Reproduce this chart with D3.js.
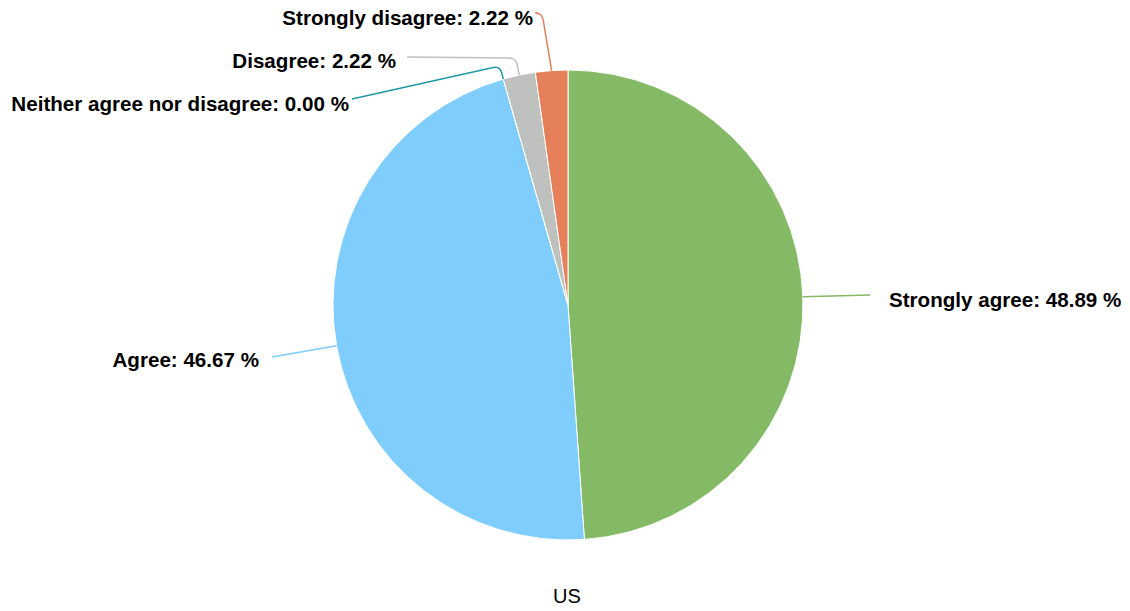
<!DOCTYPE html>
<html>
<head>
<meta charset="utf-8">
<script src="https://cdn.jsdelivr.net/npm/d3@7/dist/d3.min.js"></script>
<style>
  html, body { margin: 0; padding: 0; background: #ffffff; }
  svg { display: block; font-family: "Liberation Sans", Arial, Helvetica, sans-serif; }
</style>
</head>
<body>
<svg id="chart" width="1130" height="611"></svg>
<script>
// Survey answers for the US respondents
const categories = ["Strongly agree", "Agree", "Neither agree nor disagree", "Disagree", "Strongly disagree"];
const percentages = [48.89, 46.67, 0.00, 2.22, 2.22];
const sliceColors = ["#84b965", "#7ecdfd", "#1f9aa4", "#bec1bd", "#e5805a"];
const chartTitle = "US";

// Label placement: side of the pie, label anchor point and connector elbow
const labelLayout = [
  { side: "right", x: 889, y: 300, elbow: [870, 295] },
  { side: "left",  x: 259, y: 360, elbow: [272, 357] },
  { side: "left",  x: 349, y: 104, elbow: [500, 66], end: [352, 99] },
  { side: "left",  x: 396, y: 61,  elbow: [516, 58], end: [407, 57] },
  { side: "left",  x: 533, y: 18,  elbow: [542, 13], end: [538, 13] }
];

const svg = d3.select("#chart");
const cx = 568, cy = 305, radius = 235;

const data = categories.map((c, i) => ({ name: c, value: percentages[i], color: sliceColors[i], layout: labelLayout[i] }));

const pie = d3.pie().sort(null).value(d => d.value);
const arcs = pie(data);
const arc = d3.arc().innerRadius(0).outerRadius(radius);

const g = svg.append("g").attr("transform", `translate(${cx},${cy})`);

g.selectAll("path.slice")
  .data(arcs)
  .join("path")
  .attr("class", "slice")
  .attr("d", arc)
  .attr("fill", d => d.data.color)
  .attr("stroke", "#ffffff")
  .attr("stroke-width", 1)
  .attr("stroke-linejoin", "round");

// Connector from the slice edge to its label
function connector(d) {
  const mid = (d.startAngle + d.endAngle) / 2;
  const px = cx + radius * Math.sin(mid);
  const py = cy - radius * Math.cos(mid);
  const L = d.data.layout;
  const [ex, ey] = L.elbow;
  if (!L.end) {
    return `M${px},${py}L${ex},${ey}`;
  }
  const [tx, ty] = L.end;
  // run up to the elbow, rounded corner, then run to the label
  const r = 7;
  const ang = Math.atan2(ty - ey, tx - ex);
  const len = Math.hypot(px - ex, py - ey);
  const cornerStartX = ex + (px - ex) * (r / len);
  const cornerStartY = ey + (py - ey) * (r / len);
  const cornerEndX = ex + r * Math.cos(ang);
  const cornerEndY = ey + r * Math.sin(ang);
  return `M${px},${py}L${cornerStartX},${cornerStartY}Q${ex},${ey} ${cornerEndX},${cornerEndY}L${tx},${ty}`;
}

svg.selectAll("path.connector")
  .data(arcs)
  .join("path")
  .attr("class", "connector")
  .attr("d", connector)
  .attr("fill", "none")
  .attr("stroke", d => d.data.color)
  .attr("stroke-width", 1.5);

svg.selectAll("text.label")
  .data(arcs)
  .join("text")
  .attr("class", "label")
  .attr("x", d => d.data.layout.x)
  .attr("y", d => d.data.layout.y)
  .attr("dy", "0.35em")
  .attr("text-anchor", d => d.data.layout.side === "right" ? "start" : "end")
  .attr("font-size", 20.6)
  .attr("font-weight", "bold")
  .attr("fill", "#000000")
  .text(d => `${d.data.name}: ${d.data.value.toFixed(2)} %`);

svg.append("text")
  .attr("x", cx - 1)
  .attr("y", 596)
  .attr("dy", "0.35em")
  .attr("text-anchor", "middle")
  .attr("font-size", 20)
  .attr("fill", "#000000")
  .text(chartTitle);
</script>
</body>
</html>
